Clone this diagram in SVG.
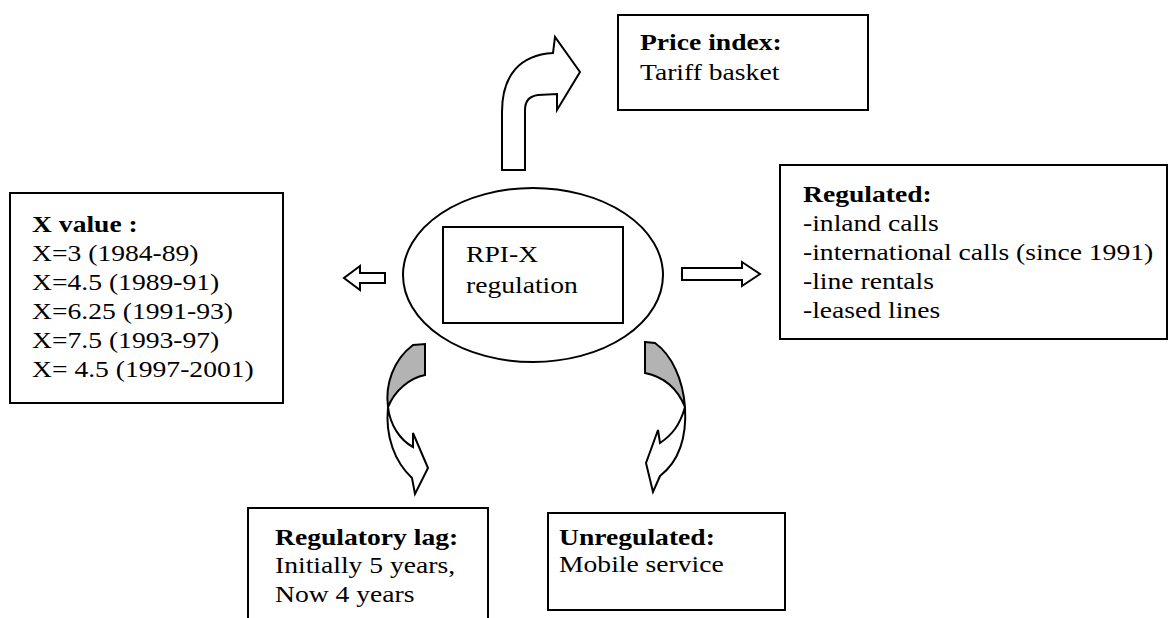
<svg xmlns="http://www.w3.org/2000/svg" width="1170" height="618" viewBox="0 0 1170 618">
<style>
.box{fill:#fff;stroke:#000;stroke-width:2}
.arr{fill:#fff;stroke:#000;stroke-width:2;stroke-linejoin:miter}
.sh{fill:#b3b3b3;stroke:#000;stroke-width:2}
text{font-family:"Liberation Serif","Times New Roman",serif;font-size:24px;fill:#000}
.b{font-weight:bold}
</style>
<rect width="1170" height="618" fill="#fff"/>
<g id="connectors">
<path class="arr" d="M502 170 L502 112 C502 75 520 55 553 53 L555 37 L580 72 L557 110 L557 94 L538 95 C530 96 525 100 525 110 L525 170 Z"/>
<path class="arr" d="M385 273 L360 273 L360 266 L344 278 L360 290 L360 283 L385 283 Z"/>
<path class="arr" d="M682 268 L742 268 L742 262 L760 274 L742 286 L742 280 L682 280 Z"/>
<path class="sh" d="M413 345 L425 344 L425 375 C410 378 395 390 388 407 C385 385 393 360 413 345 Z"/>
<path class="arr" d="M388 407 C385 437 395 462 412 478 L415 494 L428 468 L413 433 L413 447 C400 440 390 425 388 407 Z"/>
<path class="sh" d="M645 342 L655 343 C672 355 683 380 685 407 C678 390 665 377 645 373 Z"/>
<path class="arr" d="M685 407 C687 440 678 462 660 476 L653 492 L646 463 L658 430 L660 443 C672 435 680 425 685 407 Z"/>
</g>
<g id="center">
<ellipse cx="533" cy="275" rx="130" ry="87" fill="#fff" stroke="#000" stroke-width="2"/>
<rect class="box" x="443" y="227" width="180" height="96"/>
<g transform="translate(466,262) scale(1.15,1)"><text><tspan x="0" y="0">RPI-X</tspan><tspan x="0" y="31">regulation</tspan></text></g>
</g>
<g id="price">
<rect class="box" x="618" y="15" width="250" height="95"/>
<g transform="translate(640,50) scale(1.15,1)"><text><tspan class="b" x="0" y="0">Price index:</tspan><tspan x="0" y="30">Tariff basket</tspan></text></g>
</g>
<g id="xvalue">
<rect class="box" x="10" y="193" width="273" height="210"/>
<g transform="translate(32,232) scale(1.15,1)"><text><tspan class="b" x="0" y="0">X value :</tspan><tspan x="0" y="29">X=3 (1984-89)</tspan><tspan x="0" y="58">X=4.5 (1989-91)</tspan><tspan x="0" y="87">X=6.25 (1991-93)</tspan><tspan x="0" y="116">X=7.5 (1993-97)</tspan><tspan x="0" y="145">X= 4.5 (1997-2001)</tspan></text></g>
</g>
<g id="regulated">
<rect class="box" x="780" y="165" width="387" height="174"/>
<g transform="translate(803,202) scale(1.15,1)"><text><tspan class="b" x="0" y="0">Regulated:</tspan><tspan x="0" y="29">-inland calls</tspan><tspan x="0" y="58">-international calls (since 1991)</tspan><tspan x="0" y="87">-line rentals</tspan><tspan x="0" y="116">-leased lines</tspan></text></g>
</g>
<g id="lag">
<rect class="box" x="248" y="508" width="240" height="120"/>
<g transform="translate(275,545) scale(1.15,1)"><text><tspan class="b" x="0" y="0">Regulatory lag:</tspan><tspan x="0" y="28.5">Initially 5 years,</tspan><tspan x="0" y="57">Now 4 years</tspan></text></g>
</g>
<g id="unregulated">
<rect class="box" x="548" y="513" width="237" height="97"/>
<g transform="translate(559,545) scale(1.15,1)"><text><tspan class="b" x="0" y="0">Unregulated:</tspan><tspan x="0" y="27">Mobile service</tspan></text></g>
</g>
</svg>
